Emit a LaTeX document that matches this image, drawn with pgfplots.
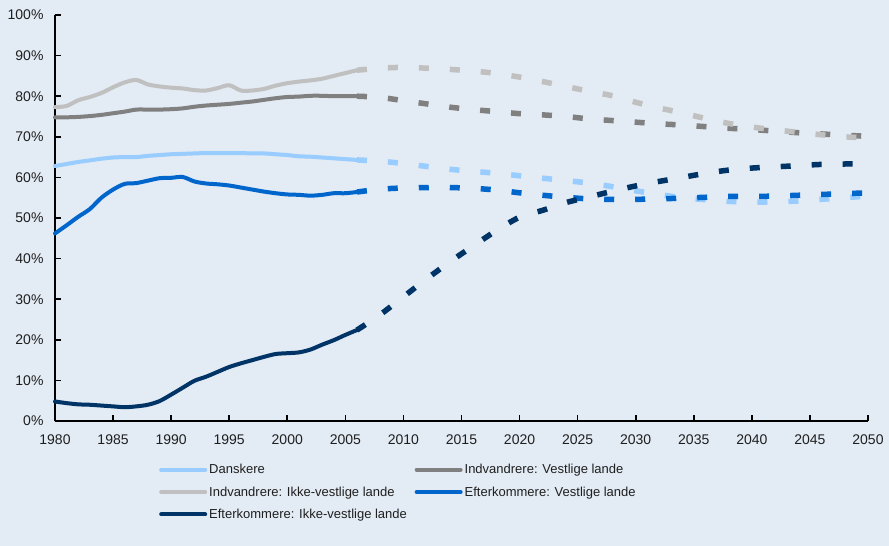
\documentclass[border=0pt]{standalone}
\usepackage{fontspec}
\setmainfont{Liberation Sans}
\usepackage{pgfplots}
\pgfplotsset{compat=1.18}
\definecolor{bgc}{HTML}{E3EBF4}
\definecolor{cDan}{HTML}{99CCFF}
\definecolor{cIV}{HTML}{808080}
\definecolor{cIIV}{HTML}{C0C0C0}
\definecolor{cEV}{HTML}{0066CC}
\definecolor{cEIV}{HTML}{003366}
\begin{document}
\begin{tikzpicture}
\path[use as bounding box, fill=bgc] (0,0) rectangle (889bp,546bp);
\begin{axis}[
  at={(55bp,125bp)}, anchor=south west,
  scale only axis, width=813bp, height=406bp,
  xmin=1980, xmax=2050, ymin=0, ymax=100,
  axis x line=bottom, axis y line=left,
  axis line style={-, line width=2bp, black},
  xtick={1980,1985,...,2050},
  xticklabels={1980,1985,1990,1995,2000,2005,2010,2015,2020,2025,2030,2035,2040,2045,2050},
  ytick={0,10,...,100},
  yticklabels={0\%,10\%,20\%,30\%,40\%,50\%,60\%,70\%,80\%,90\%,100\%},
  tick align=inside, major tick length=6bp,
  tick style={line width=1.6bp, black},
  tick label style={font=\fontsize{14bp}{16bp}\selectfont, text=black!88},
  xticklabel style={yshift=-10bp},
  yticklabel style={xshift=-8bp},
  clip=false,
  legend columns=2,
  legend cell align=left,
  legend style={at={(0,0)}, anchor=north west, xshift=104bp, yshift=-41bp,
    draw=none, fill=none, inner sep=0pt, row sep=7.5bp,
    font=\fontsize{13bp}{15bp}\selectfont, text=black!88,
    /tikz/every even column/.append style={column sep=18bp}},
  legend image code/.code={\draw[#1, solid, line width=4bp] (0bp,0bp) -- (44bp,0bp);},
  every axis plot/.append style={smooth, tension=0.5, line cap=round},
]
% Danskere
\addplot[cDan, line width=4bp] coordinates {
(1980,62.8)(1981,63.3)(1982,63.8)(1983,64.2)(1984,64.6)(1985,64.9)(1986,65.0)(1987,65.0)(1988,65.3)(1989,65.5)(1990,65.7)(1991,65.8)(1992,65.9)(1993,66.0)(1994,66.0)(1995,66.0)(1996,66.0)(1997,65.9)(1998,65.9)(1999,65.7)(2000,65.5)(2001,65.2)(2002,65.1)(2003,64.9)(2004,64.7)(2005,64.5)(2006,64.3)};
\addlegendentry{Danskere}
% Indvandrere Vestlige
\addplot[cIV, line width=4bp] coordinates {
(1980,74.8)(1981,74.8)(1982,74.9)(1983,75.1)(1984,75.4)(1985,75.8)(1986,76.2)(1987,76.7)(1988,76.7)(1989,76.7)(1990,76.8)(1991,77.0)(1992,77.4)(1993,77.7)(1994,77.9)(1995,78.1)(1996,78.4)(1997,78.7)(1998,79.1)(1999,79.5)(2000,79.8)(2001,79.9)(2002,80.1)(2003,80.1)(2004,80.0)(2005,80.0)(2006,80.0)};
\addlegendentry{Indvandrere: Vestlige lande}
% Indvandrere Ikke-vestlige
\addplot[cIIV, line width=4bp] coordinates {
(1980,77.3)(1981,77.6)(1982,79.0)(1983,79.8)(1984,80.8)(1985,82.2)(1986,83.4)(1987,84.0)(1988,82.9)(1989,82.4)(1990,82.1)(1991,81.9)(1992,81.5)(1993,81.4)(1994,82.0)(1995,82.7)(1996,81.4)(1997,81.4)(1998,81.8)(1999,82.6)(2000,83.2)(2001,83.6)(2002,83.9)(2003,84.3)(2004,85.0)(2005,85.7)(2006,86.4)};
\addlegendentry{Indvandrere: Ikke-vestlige lande}
% Efterkommere Vestlige
\addplot[cEV, line width=4bp] coordinates {
(1980,46.2)(1981,48.2)(1982,50.3)(1983,52.2)(1984,55.0)(1985,57.0)(1986,58.4)(1987,58.6)(1988,59.2)(1989,59.8)(1990,59.9)(1991,60.1)(1992,59.0)(1993,58.5)(1994,58.3)(1995,58.0)(1996,57.5)(1997,57.0)(1998,56.5)(1999,56.1)(2000,55.8)(2001,55.7)(2002,55.5)(2003,55.7)(2004,56.1)(2005,56.1)(2006,56.4)};
\addlegendentry{Efterkommere: Vestlige lande}
% Efterkommere Ikke-vestlige
\addplot[cEIV, line width=4bp] coordinates {
(1980,4.8)(1981,4.4)(1982,4.1)(1983,4.0)(1984,3.8)(1985,3.6)(1986,3.4)(1987,3.6)(1988,4.0)(1989,4.9)(1990,6.5)(1991,8.2)(1992,9.9)(1993,10.9)(1994,12.1)(1995,13.3)(1996,14.2)(1997,15.0)(1998,15.8)(1999,16.5)(2000,16.7)(2001,16.9)(2002,17.6)(2003,18.8)(2004,19.9)(2005,21.2)(2006,22.4)};
\addlegendentry{\makebox[150bp][l]{Efterkommere: Ikke-vestlige lande}}
% dashed projections
\addplot[cDan, line width=5.5bp, line cap=butt, dash pattern=on 10bp off 21bp, forget plot] coordinates {
(2006,64.3)(2008,64.0)(2010,63.4)(2012,62.7)(2014,62.0)(2016,61.5)(2018,61.0)(2020,60.4)(2022,59.8)(2024,59.2)(2026,58.6)(2028,57.7)(2030,56.7)(2032,55.8)(2034,55.0)(2036,54.5)(2038,54.1)(2040,53.9)(2042,54.0)(2044,54.2)(2046,54.6)(2048,55.0)(2050,55.4)};
\addplot[cIV, line width=5.5bp, line cap=butt, dash pattern=on 10bp off 21bp, forget plot] coordinates {
(2006,80.0)(2008,79.7)(2010,78.9)(2012,78.1)(2014,77.3)(2016,76.7)(2018,76.2)(2020,75.7)(2022,75.4)(2024,75.0)(2026,74.4)(2028,74.0)(2030,73.6)(2032,73.2)(2034,72.9)(2036,72.5)(2038,72.1)(2040,71.8)(2042,71.4)(2044,71.0)(2046,70.7)(2048,70.4)(2050,70.1)};
\addplot[cIIV, line width=5.5bp, line cap=butt, dash pattern=on 10bp off 21bp, forget plot] coordinates {
(2006,86.4)(2008,86.9)(2010,87.1)(2012,86.9)(2014,86.6)(2016,86.2)(2018,85.6)(2020,84.7)(2022,83.6)(2024,82.4)(2026,81.2)(2028,80.1)(2030,78.5)(2032,77.1)(2034,75.9)(2036,74.5)(2038,73.3)(2040,72.4)(2042,71.7)(2044,71.1)(2046,70.5)(2048,70.0)(2050,69.7)};
\addplot[cEV, line width=5.5bp, line cap=butt, dash pattern=on 10bp off 21bp, forget plot] coordinates {
(2006,56.4)(2008,57.1)(2010,57.4)(2012,57.5)(2014,57.5)(2016,57.3)(2018,56.9)(2020,56.2)(2022,55.6)(2024,55.1)(2026,54.7)(2028,54.6)(2030,54.6)(2032,54.7)(2034,54.9)(2036,55.1)(2038,55.3)(2040,55.3)(2042,55.4)(2044,55.6)(2046,55.8)(2048,56.0)(2050,56.2)};
\addplot[cEIV, line width=5.5bp, line cap=butt, dash pattern=on 10bp off 21bp, forget plot] coordinates {
(2006,22.4)(2008,26.2)(2010,30.6)(2012,35.0)(2014,39.2)(2016,43.1)(2018,46.9)(2020,50.2)(2022,51.9)(2024,53.8)(2026,55.2)(2028,56.6)(2030,57.9)(2032,59.0)(2034,60.0)(2036,61.0)(2038,61.8)(2040,62.3)(2042,62.6)(2044,62.9)(2046,63.2)(2048,63.3)(2050,63.4)};
\end{axis}
\end{tikzpicture}
\end{document}
